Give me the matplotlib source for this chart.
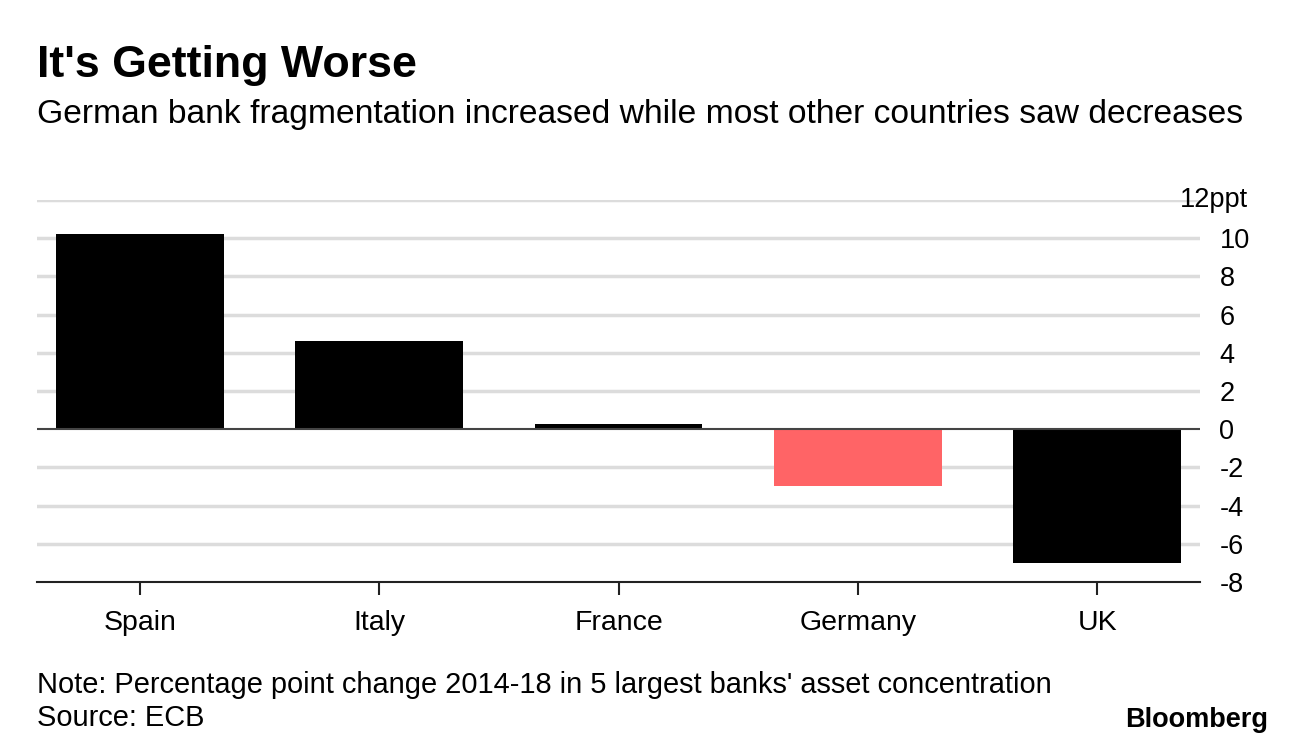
import matplotlib
matplotlib.use("Agg")
import matplotlib.pyplot as plt

categories = ["Spain", "Italy", "France", "Germany", "UK"]
values = [10.2, 4.6, 0.25, -2.95, -7.0]
bar_colors = ["#000000", "#000000", "#000000", "#ff6466", "#000000"]
yticks = [-8, -6, -4, -2, 0, 2, 4, 6, 8, 10, 12]
ytick_labels = ["-8", "-6", "-4", "-2", "0", "2", "4", "6", "8", "10", ""]

title = "It's Getting Worse"
subtitle = "German bank fragmentation increased while most other countries saw decreases"
note = "Note: Percentage point change 2014-18 in 5 largest banks' asset concentration"
source = "Source: ECB"

W, H = 1296, 750
fig = plt.figure(figsize=(W / 100, H / 100), dpi=100)
plt.rcParams['font.family'] = ['Liberation Sans', 'DejaVu Sans']

ax = fig.add_axes([37 / W, 1 - 582 / H, (1200 - 37) / W, (582 - 200) / H])
x = list(range(len(categories)))
ax.bar(x, values, width=0.7, color=bar_colors, zorder=3)
ax.set_xlim(-0.43, 4.43)
ax.set_ylim(-8, 12)

for t in yticks:
    if t == -8:
        continue
    if t == 0:
        ax.axhline(0, color="#444444", lw=1.5, zorder=4)
    else:
        ax.axhline(t, color="#dcdcdc", lw=2.5, zorder=1)

for s in ["top", "left", "right"]:
    ax.spines[s].set_visible(False)
ax.spines["bottom"].set_color("#222222")
ax.spines["bottom"].set_linewidth(1.5)
ax.spines["bottom"].set_position(("data", -8))

ax.set_xticks(x)
ax.set_xticklabels(categories, fontsize=20.5)
ax.tick_params(axis="x", length=9, width=1.5, color="#222222", pad=11)

ax.yaxis.tick_right()
ax.set_yticks(yticks)
ax.set_yticklabels(ytick_labels, fontsize=19.5)
ax.tick_params(axis="y", length=0, pad=14)
fig.text(1248 / W, 1 - 200 / H, "12ppt", fontsize=19.5, ha="right", va="center")

fig.text(37 / W, 1 - 65 / H, title, fontsize=32.2, fontweight="bold", ha="left", va="center")
fig.text(37 / W, 1 - 115 / H, subtitle, fontsize=24.2, ha="left", va="center")
fig.text(37 / W, 1 - 685 / H, note, fontsize=20.9, ha="left", va="center")
fig.text(37 / W, 1 - 718 / H, source, fontsize=20.9, ha="left", va="center")
fig.text(1268 / W, 1 - 720 / H, "Bloomberg", fontsize=19.5, fontweight="bold", ha="right", va="center")

fig.savefig("out.png", dpi=100)
